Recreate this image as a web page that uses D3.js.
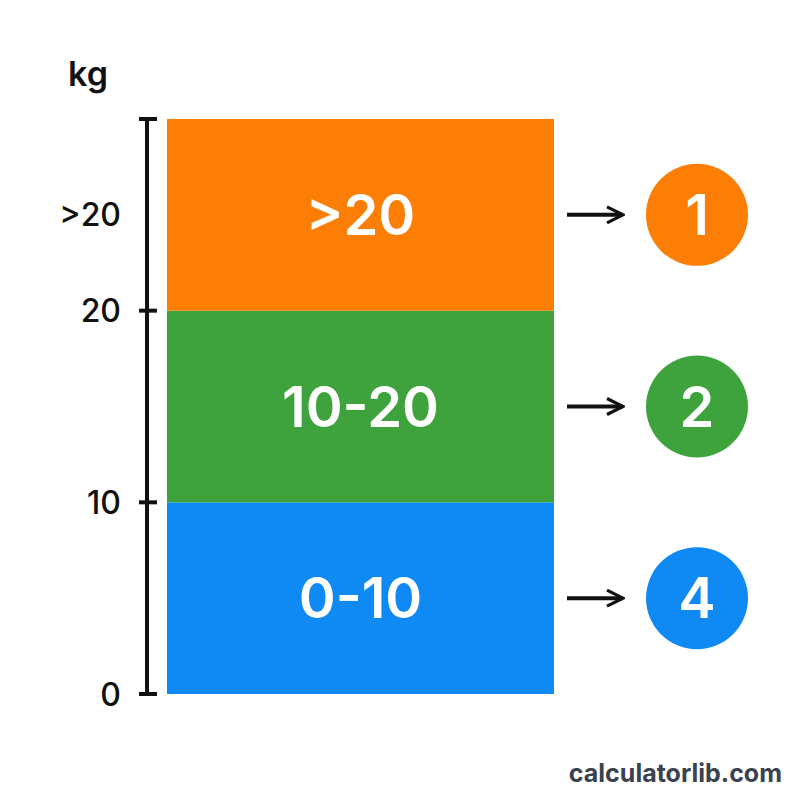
<!DOCTYPE html>
<html><head><meta charset="utf-8">
<script src="https://cdn.jsdelivr.net/npm/d3@7"></script>
<style>body{margin:0;background:#fff}</style>
</head><body>
<svg id="chart" width="800" height="800"></svg>
<script>
// bands of weight, bottom to top
const bandLabels = ["0-10", "10-20", ">20"];
const bandLow = [0, 10, 20];
const bandHigh = [10, 20, 30];
const bandCounts = [4, 2, 1];
const bandColors = ["#0f8af5", "#3ea33d", "#fd7e05"];
const tickValues = [0, 10, 20];
const font = "Inter, 'Open Sans', sans-serif";

const svg = d3.select("#chart");
const y = d3.scaleLinear().domain([0, 30]).range([694, 119]);
const x0 = 167, x1 = 554;

// bands
svg.selectAll("rect.band").data(bandLabels).enter().append("rect")
    .attr("x", x0).attr("width", x1 - x0)
    .attr("y", (d, i) => y(bandHigh[i]))
    .attr("height", (d, i) => y(bandLow[i]) - y(bandHigh[i]))
    .attr("fill", (d, i) => bandColors[i]);

svg.selectAll("text.band").data(bandLabels).enter().append("text")
    .attr("x", (x0 + x1) / 2)
    .attr("y", (d, i) => y((bandLow[i] + bandHigh[i]) / 2))
    .attr("dy", "0.36em").attr("text-anchor", "middle")
    .attr("fill", "#fff").attr("font-family", font).attr("font-weight", 600)
    .attr("font-size", 56).text(d => d);

// axis
const axis = svg.append("g").attr("transform", "translate(147,0)");
axis.append("line").attr("y1", y(30)).attr("y2", y(0)).attr("stroke", "#111").attr("stroke-width", 4);
axis.selectAll("line.tick").data(tickValues.concat([30])).enter().append("line")
    .attr("x1", -8).attr("x2", 10).attr("y1", d => y(d)).attr("y2", d => y(d))
    .attr("stroke", "#111").attr("stroke-width", 4);
axis.selectAll("text.tick").data(tickValues).enter().append("text")
    .attr("x", -26).attr("y", d => y(d)).attr("dy", "0.36em").attr("text-anchor", "end")
    .attr("font-family", font).attr("font-weight", 500).attr("font-size", 32).attr("fill", "#111")
    .text(d => d);
axis.append("text").attr("x", -26).attr("y", y(25)).attr("dy", "0.36em").attr("text-anchor", "end")
    .attr("font-family", font).attr("font-weight", 500).attr("font-size", 32).attr("fill", "#111")
    .text(">20");
svg.append("text").attr("x", 88).attr("y", 86).attr("text-anchor", "middle")
    .attr("font-family", font).attr("font-weight", 600).attr("font-size", 34).attr("fill", "#111").text("kg");

// arrows and count circles
svg.append("defs").append("marker").attr("id", "ah").attr("viewBox", "0 0 10 10")
    .attr("refX", 9).attr("refY", 5).attr("markerWidth", 5).attr("markerHeight", 5)
    .attr("orient", "auto").append("path").attr("d", "M1,1 L9,5 L1,9").attr("fill", "none")
    .attr("stroke", "#111").attr("stroke-width", 1.6);
const rows = svg.selectAll("g.row").data(bandCounts).enter().append("g")
    .attr("transform", (d, i) => `translate(0,${y((bandLow[i] + bandHigh[i]) / 2)})`);
rows.append("line").attr("x1", 567).attr("x2", 623).attr("stroke", "#111").attr("stroke-width", 4)
    .attr("marker-end", "url(#ah)");
rows.append("circle").attr("cx", 697).attr("r", 51).attr("fill", (d, i) => bandColors[i]);
rows.append("text").attr("x", 697).attr("dy", "0.36em").attr("text-anchor", "middle")
    .attr("fill", "#fff").attr("font-family", font).attr("font-weight", 600).attr("font-size", 56)
    .text(d => d);

svg.append("text").attr("x", 782).attr("y", 782).attr("text-anchor", "end")
    .attr("font-family", font).attr("font-weight", 700).attr("font-size", 25).attr("fill", "#3a4150")
    .text("calculatorlib.com");
</script>
</body></html>
